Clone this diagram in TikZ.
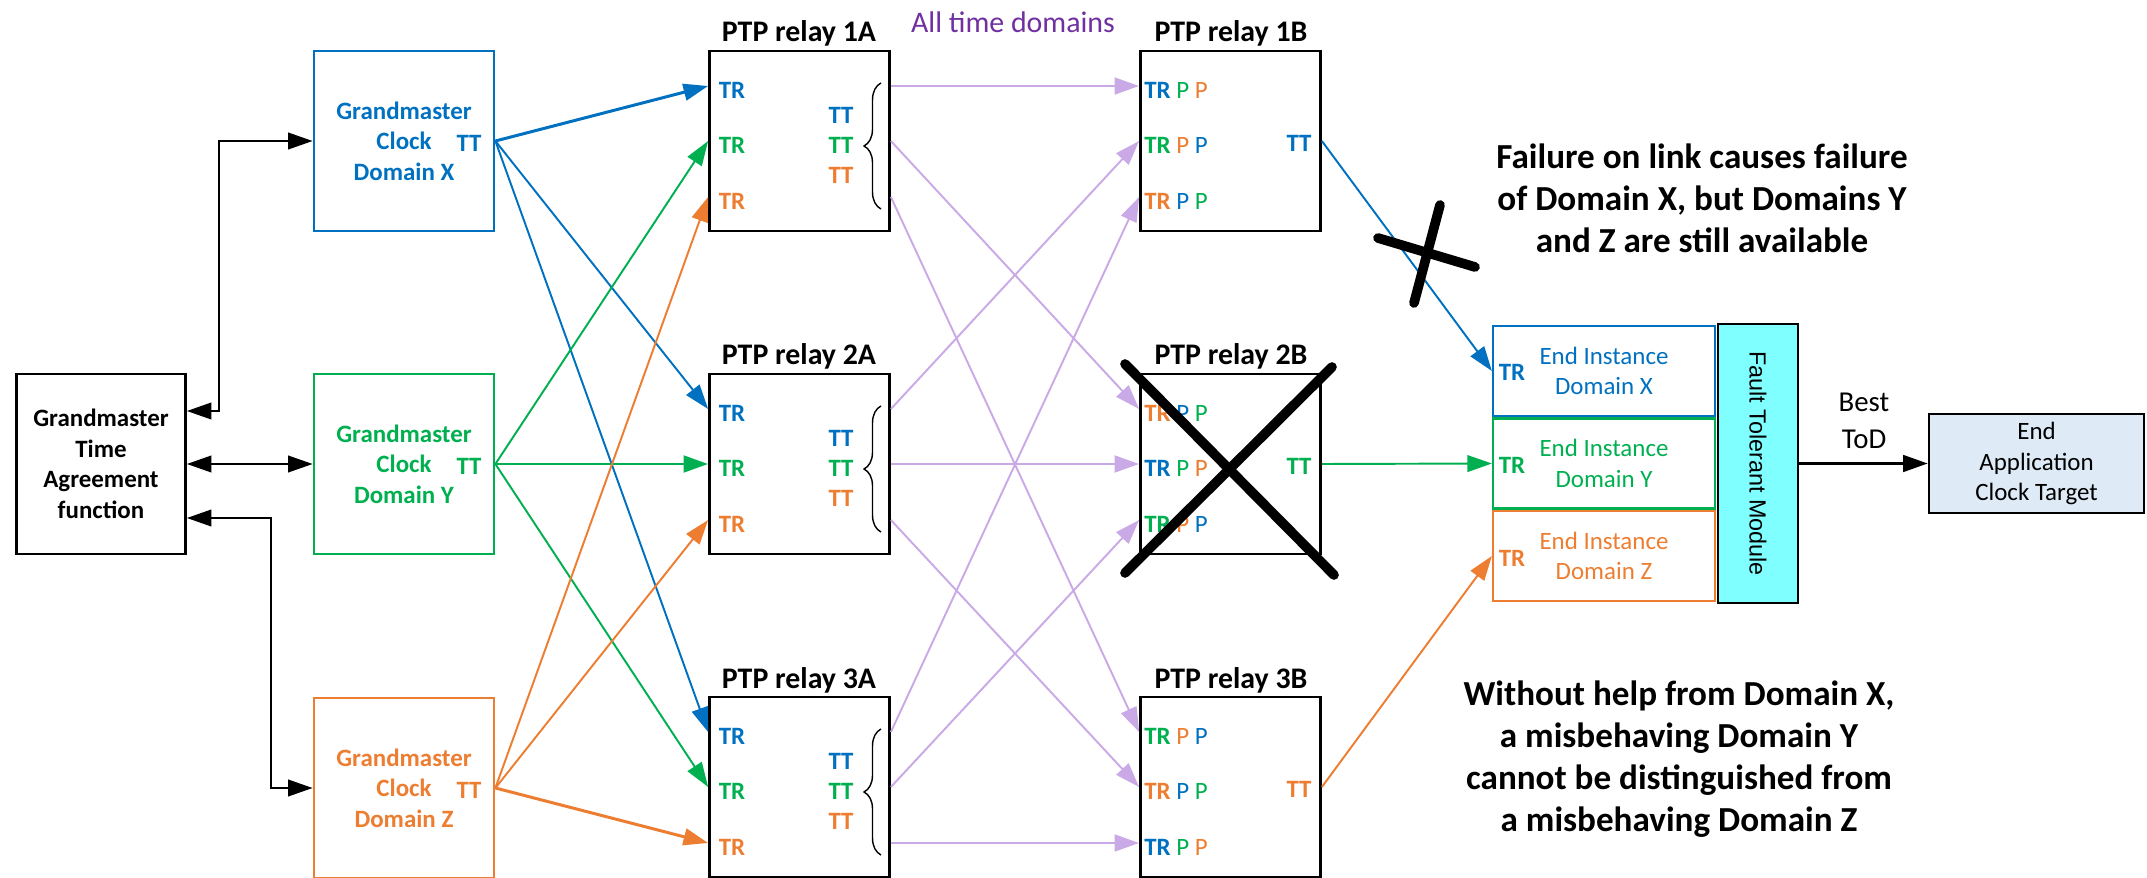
\documentclass[tikz,border=0pt]{standalone}
\usepackage{fontspec}
\setmainfont{Carlito}
\newfontfamily\ftmsans{Liberation Sans}
\usepackage{tikz}
\usetikzlibrary{arrows.meta, positioning, decorations.pathreplacing}

\definecolor{domx}{HTML}{0070C0}
\definecolor{domy}{HTML}{00B050}
\definecolor{domz}{HTML}{ED7D31}
\definecolor{lilac}{HTML}{C9A9E6}
\definecolor{purpletxt}{HTML}{7030A0}
\definecolor{ftmcyan}{HTML}{7FFFFF}
\definecolor{appblue}{HTML}{DEEBF7}

\newcommand\gmfont{\fontsize{14.2}{17.4}\selectfont}
\newcommand\hdfont{\fontsize{17}{20}\selectfont}
\newcommand\remfont{\fontsize{20}{23.8}\selectfont}
\newcommand\todfont{\fontsize{16.4}{21}\selectfont}

\tikzset{
  blk/.style={draw, line width=1.6pt, inner sep=0pt, minimum width=3.6cm, minimum height=3.6cm, align=center, font=\gmfont\bfseries},
  hd/.style={font=\hdfont\bfseries, anchor=base},
  lbl/.style={inner sep=0pt, font=\gmfont\bfseries},
  rowtxt/.style={inner sep=0pt, anchor=west, font=\gmfont},
  fwd/.style={-{Triangle[length=14pt, width=9.5pt]}},
  gmta link/.style={{Triangle[length=14pt, width=9.5pt]}-{Triangle[length=14pt, width=9.5pt]}, line width=1.1pt},
  xmark/.style={line width=5.5pt, line cap=round},
  endbox/.style={draw, line width=1.3pt, minimum width=4.44cm, minimum height=1.8cm, align=center, font=\gmfont},
  remark/.style={align=center, font=\remfont\bfseries},
}

\begin{document}
\begin{tikzpicture}[x=0.02cm, y=-0.02cm]
  \useasboundingbox (0,0) rectangle (2147,878);

  % agreement function and grandmasters
  \node[blk, minimum width=3.38cm] (gmta) at (101,464) {Grandmaster\\Time\\Agreement\\function};
  \node[blk, draw=domx, text=domx] (gmx) at (404,141) {Grandmaster\\Clock\\Domain X};
  \node[blk, draw=domy, text=domy] (gmy) at (404,464) {Grandmaster\\Clock\\Domain Y};
  \node[blk, draw=domz, text=domz] (gmz) at (404,788) {Grandmaster\\Clock\\Domain Z};
  \node[lbl, text=domx] (gmx-tt) at (469,143) {TT};
  \node[lbl, text=domy] (gmy-tt) at (469,466) {TT};
  \node[lbl, text=domz] (gmz-tt) at (469,790) {TT};

  \path (gmta.east) ++(0,-53) coordinate (gmta-x) ++(0,107) coordinate (gmta-z);
  \draw[gmta link] (gmta-x) -- ++(32.5,0) |- (gmx.west);
  \draw[gmta link] (gmta.east) -- (gmy.west);
  \draw[gmta link] (gmta-z) -- ++(84,0) |- (gmz.west);

  % first stage relays
  \foreach \r/\y in {1/141,2/464,3/787}{
    \node[blk] (ra\r) at (799.5,\y) {};
    \node[hd] (ha\r) at (799,\y-99) {PTP relay \r A};
    \node[lbl, text=domx] (ra\r-trx) at (732,\y-51) {TR};
    \node[lbl, text=domy] (ra\r-try) at (732,\y+4) {TR};
    \node[lbl, text=domz] (ra\r-trz) at (732,\y+60) {TR};
    \node[lbl, text=domx] (ra\r-ttx) at (841,\y-26) {TT};
    \node[lbl, text=domy] (ra\r-tty) at (841,\y+4) {TT};
    \node[lbl, text=domz] (ra\r-ttz) at (841,\y+34) {TT};
    \draw[line width=0.8pt, decorate, decoration={brace, amplitude=0.34cm}] (881,\y+68) -- (881,\y-58);
    \path (ra\r.west) ++(0,-55) coordinate (ra\r-in1) ++(0,55) coordinate (ra\r-in2) ++(0,56) coordinate (ra\r-in3);
    \path (ra\r.east) ++(0,-55) coordinate (ra\r-o1) ++(0,55) coordinate (ra\r-o2) ++(0,56) coordinate (ra\r-o3);
  }

  % second stage relays
  \foreach \r/\y/\ca/\cb/\cc/\ct in {1/141/domx/domy/domz/domx, 2/464/domz/domx/domy/domy, 3/787/domy/domz/domx/domz}{
    \node[blk] (rb\r) at (1230.5,\y) {};
    \node[hd] (hb\r) at (1231,\y-99) {PTP relay \r B};
    \node[rowtxt] (rb\r-row1) at (1144,\y-51) {\textcolor{\ca}{\textbf{TR}} \textcolor{\cb}{P} \textcolor{\cc}{P}};
    \node[rowtxt] (rb\r-row2) at (1144,\y+4) {\textcolor{\cb}{\textbf{TR}} \textcolor{\cc}{P} \textcolor{\ca}{P}};
    \node[rowtxt] (rb\r-row3) at (1144,\y+60) {\textcolor{\cc}{\textbf{TR}} \textcolor{\ca}{P} \textcolor{\cb}{P}};
    \node[lbl, text=\ct] (rb\r-tt) at (1299,\y+2) {TT};
    \path (rb\r.west) ++(0,-55) coordinate (rb\r-in1) ++(0,55) coordinate (rb\r-in2) ++(0,56) coordinate (rb\r-in3);
  }
  \node[font=\hdfont, text=purpletxt] (alltd) at (1013,22) {All time domains};

  % grandmaster links
  \foreach \g/\c/\k in {gmx/domx/1, gmy/domy/2, gmz/domz/3}{
    \foreach \r in {1,2,3}{
      \pgfmathsetmacro\lwd{ifthenelse(\r==\k,1.7,1.1)}
      \draw[fwd, draw=\c, line width=\lwd pt] (\g.east) -- (ra\r-in\k);
    }
  }
  % relay to relay
  \foreach \r in {1,2,3}{
    \foreach \k in {1,2,3}{
      \pgfmathsetmacro\lwd{ifthenelse(\r==\k,1.7,1.1)}
      \draw[fwd, draw=lilac, line width=\lwd pt] (ra\r-o\k) -- (rb\k-in\r);
    }
  }

  % end instances
  \node[endbox, draw=domx, text=domx] (eix) at (1604,371) {End Instance\\Domain X};
  \node[endbox, draw=domy, text=domy] (eiy) at (1604,463.5) {End Instance\\Domain Y};
  \node[endbox, draw=domz, text=domz] (eiz) at (1604,556) {End Instance\\Domain Z};
  \node[lbl, text=domx] (eix-tr) at (1512,372) {TR};
  \node[lbl, text=domy] (eiy-tr) at (1512,465) {TR};
  \node[lbl, text=domz] (eiz-tr) at (1512,558) {TR};
  \node[draw, fill=ftmcyan, line width=1.5pt, minimum width=1.6cm, minimum height=5.58cm] (ftm) at (1758,463.5) {};
  \node[rotate=-90, font=\ftmsans\fontsize{13.3}{16}\selectfont] (ftm-txt) at (ftm.center) {Fault Tolerant Module};
  \node[draw, fill=appblue, line width=1.5pt, minimum width=4.3cm, minimum height=1.98cm, align=center, font=\gmfont] (app) at (2036.5,463.5) {End\\Application\\Clock Target};
  \node[align=center, font=\todfont] (tod) at (1864,421) {Best\\ToD};

  \draw[fwd, draw=domx, line width=1.1pt] (rb1.east) -- (eix.west);
  \draw[fwd, draw=domy, line width=1.1pt] (rb2.east) -- (eiy.west);
  \draw[fwd, draw=domz, line width=1.1pt] (rb3.east) -- (eiz.west);
  \draw[fwd, line width=1.5pt] (ftm.east) -- (app.west);

  % failures
  \draw[xmark] (1378,238) -- (1475,267);
  \draw[xmark] (1440,205) -- (1414,303);
  \draw[xmark] (1125,364) -- (1334,575);
  \draw[xmark] (1332,367) -- (1125,573);

  \node[remark] (fail) at (1702,198) {Failure on link causes failure\\of Domain X, but Domains Y\\and Z are still available};
  \node[remark] (nohelp) at (1679,759) {Without help from Domain X,\\a misbehaving Domain Y\\cannot be distinguished from\\a misbehaving Domain Z};
\end{tikzpicture}
\end{document}
